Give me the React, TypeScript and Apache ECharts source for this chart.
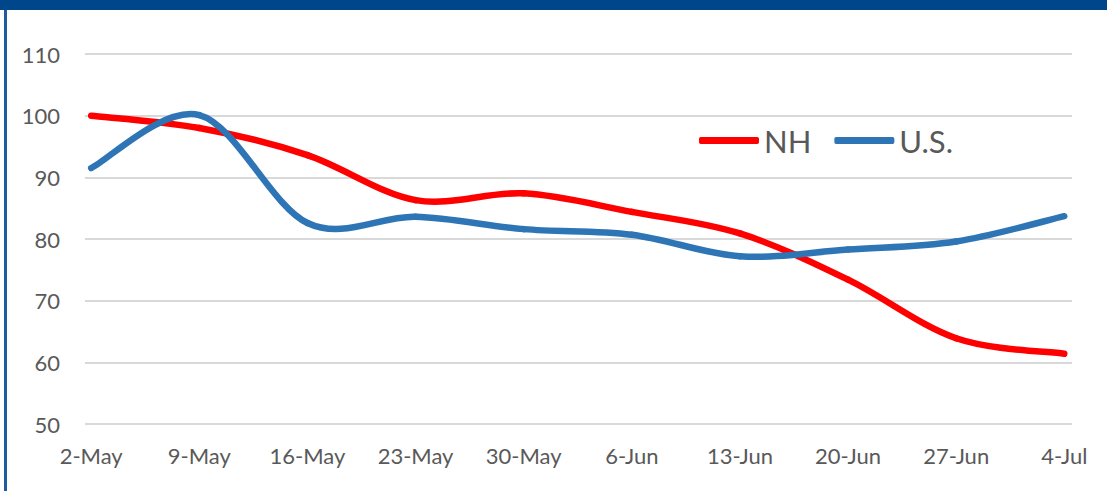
import React, { useEffect, useRef } from "react";
import * as echarts from "echarts";

const categories = ["2-May", "9-May", "16-May", "23-May", "30-May", "6-Jun", "13-Jun", "20-Jun", "27-Jun", "4-Jul"];
const nhValues = [100, 98.0, 93.6, 86.3, 87.4, 84.4, 80.9, 73.4, 63.9, 61.4];
const usValues = [91.5, 100.1, 82.6, 83.6, 81.6, 80.7, 77.2, 78.3, 79.6, 83.7];
const yTicks = [50, 60, 70, 80, 90, 100, 110];

const FONT = "Lato, 'Open Sans', sans-serif";

// Excel-like smoothed line (Catmull-Rom -> cubic Bezier), positioned through the chart's own scales
function smoothRenderer(values: number[], days: number[], color: string) {
  return (params: any, api: any) => {
    if (params.dataIndex !== 0) return null;
    const pts = values.map((v, i) => api.coord([days[i], v]));
    const n = pts.length;
    const children: any[] = [];
    for (let i = 0; i < n - 1; i++) {
      const p0 = pts[Math.max(0, i - 1)];
      const p1 = pts[i];
      const p2 = pts[i + 1];
      const p3 = pts[Math.min(n - 1, i + 2)];
      const k = 1 / 6;
      children.push({
        type: "bezierCurve",
        shape: {
          x1: p1[0],
          y1: p1[1],
          cpx1: p1[0] + (p2[0] - p0[0]) * k,
          cpy1: p1[1] + (p2[1] - p0[1]) * k,
          cpx2: p2[0] - (p3[0] - p1[0]) * k,
          cpy2: p2[1] - (p3[1] - p1[1]) * k,
          x2: p2[0],
          y2: p2[1],
        },
        style: { stroke: color, lineWidth: 6.5, fill: null, lineCap: "round", lineJoin: "round" },
      });
    }
    return { type: "group", children };
  };
}

export default function App() {
  const ref = useRef<HTMLDivElement>(null);
  useEffect(() => {
    if (!ref.current) return;
    const chart = echarts.init(ref.current, null, { renderer: "svg" });
    const days = categories.map((_, i) => i * 7);
    const nh = days.map((d, i) => [d, nhValues[i]]);
    const us = days.map((d, i) => [d, usValues[i]]);
    chart.setOption({
      animation: false,
      backgroundColor: "#ffffff",
      grid: { left: 85, right: 35, top: 54, bottom: 67 },
      legend: {
        left: 694,
        top: 120,
        icon: "roundRect",
        itemWidth: 60,
        itemHeight: 7,
        itemGap: 23,
        textStyle: { color: "#595959", fontSize: 31, fontFamily: FONT },
        data: ["NH", "U.S."],
      },
      xAxis: {
        type: "value",
        min: -0.4,
        max: 63.5,
        axisLine: { show: false },
        axisTick: { show: false },
        splitLine: { show: false },
        axisLabel: {
          customValues: days,
          margin: 20,
          color: "#595959",
          fontSize: 22,
          fontFamily: FONT,
          formatter: (v: number) => {
            const idx = days.indexOf(Math.round(v));
            return idx >= 0 ? categories[idx] : "";
          },
        },
      },
      yAxis: {
        type: "value",
        min: yTicks[0],
        max: yTicks[yTicks.length - 1],
        interval: 10,
        axisLine: { show: false },
        axisTick: { show: false },
        splitLine: { lineStyle: { color: "#D9D9D9", width: 2 } },
        axisLabel: { margin: 25, color: "#595959", fontSize: 22, fontFamily: FONT },
      },
      graphic: [
        { type: "rect", left: 0, top: 0, shape: { width: 1107, height: 10 }, style: { fill: "#00468B" } },
        { type: "rect", left: 4, top: 10, shape: { width: 3, height: 481 }, style: { fill: "#1F5C9E" } },
      ],
      series: [
        {
          name: "NH",
          type: "custom",
          data: nh,
          encode: { x: 0, y: 1 },
          renderItem: smoothRenderer(nhValues, days, "#FF0000"),
          itemStyle: { color: "#FF0000" },
          clip: false,
        },
        {
          name: "U.S.",
          type: "custom",
          data: us,
          encode: { x: 0, y: 1 },
          renderItem: smoothRenderer(usValues, days, "#2E75B6"),
          itemStyle: { color: "#2E75B6" },
          clip: false,
        },
      ],
    });
    return () => chart.dispose();
  }, []);
  return (
    <div
      ref={ref}
      style={{ position: "fixed", left: 0, top: 0, width: 1107, height: 491 }}
    />
  );
}
